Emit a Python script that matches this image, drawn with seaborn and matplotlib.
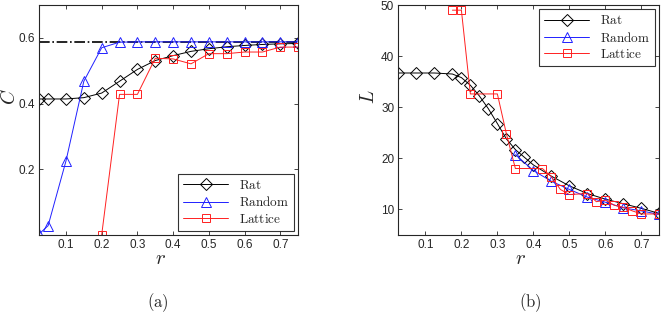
import numpy as np
import pandas as pd
import seaborn as sns
import matplotlib
matplotlib.use('Agg')
import matplotlib.pyplot as plt
from matplotlib.lines import Line2D

# ---------------- data ----------------
# (a) clustering coefficient C vs r
r_a = [0.025, 0.05, 0.1, 0.15, 0.2, 0.25, 0.3, 0.35, 0.4, 0.45, 0.5, 0.55, 0.6, 0.65, 0.7, 0.75]
C_rat = [0.414, 0.414, 0.414, 0.418, 0.432, 0.468, 0.504, 0.531, 0.546, 0.559, 0.567, 0.573, 0.577, 0.580, 0.582, 0.583]
C_random = [0.003, 0.028, 0.225, 0.468, 0.570, 0.587, 0.588, 0.588, 0.588, 0.588, 0.588, 0.588, 0.588, 0.588, 0.588, 0.588]
r_a_lat = [0.2, 0.25, 0.3, 0.35, 0.4, 0.45, 0.5, 0.55, 0.6, 0.65, 0.7, 0.75]
C_lattice = [0.0, 0.428, 0.428, 0.538, 0.536, 0.521, 0.552, 0.552, 0.557, 0.557, 0.572, 0.572]
C_ref = 0.587

# (b) path length L vs r
r_b_rat = [0.025, 0.075, 0.125, 0.175, 0.2, 0.225, 0.25, 0.275, 0.3, 0.325, 0.35, 0.375,
           0.4, 0.45, 0.5, 0.55, 0.6, 0.65, 0.7, 0.75]
L_rat = [36.7, 36.7, 36.7, 36.5, 35.8, 34.3, 32.2, 29.7, 26.8, 23.8, 21.7, 20.2,
         18.7, 16.5, 14.6, 13.1, 12.0, 11.1, 10.2, 9.2]
r_b_rand = [0.35, 0.4, 0.45, 0.5, 0.55, 0.6, 0.65, 0.7, 0.75]
L_random = [20.7, 17.6, 15.5, 13.9, 12.4, 11.4, 10.3, 9.7, 9.0]
r_b_lat = [0.175, 0.2, 0.225, 0.3, 0.325, 0.35, 0.425, 0.45, 0.475, 0.5, 0.55, 0.575,
           0.6, 0.625, 0.65, 0.675, 0.7, 0.75]
L_lattice = [49.0, 49.0, 32.6, 32.6, 24.8, 18.0, 18.0, 16.4, 13.9, 12.9, 13.1, 11.5,
             11.8, 10.8, 10.4, 9.7, 9.1, 9.1]

labels = ['Rat', 'Random', 'Lattice']

sns.set_style('ticks')
plt.rcParams['font.family'] = ['Liberation Sans', 'DejaVu Sans']
plt.rcParams['mathtext.fontset'] = 'cm'

fig = plt.figure(figsize=(6.64, 3.17), dpi=100)
ax1 = fig.add_axes([0.059, 0.259, 0.390, 0.725])
ax2 = fig.add_axes([0.600, 0.259, 0.393, 0.725])

styles = [dict(color='k', marker='D', ms=6),
          dict(color='#2020ff', marker='^', ms=6.5),
          dict(color='#ff2020', marker='s', ms=5.5)]


def draw(ax, xs, ys):
    for x, y, st in zip(xs, ys, styles):
        df = pd.DataFrame({'r': x, 'v': y})
        sns.lineplot(data=df, x='r', y='v', ax=ax, color=st['color'], marker=st['marker'],
                     markersize=st['ms'], markerfacecolor='none', markeredgecolor=st['color'],
                     markeredgewidth=0.7, linewidth=0.7)


# ----- panel (a)
ax1.plot([0.025, 0.75], [C_ref, C_ref], color='k', linestyle='-.', linewidth=1.2, zorder=1)
draw(ax1, [r_a, r_a, r_a_lat], [C_rat, C_random, C_lattice])
ax1.set_xlim(0.025, 0.75)
ax1.set_ylim(0, 0.7)
ax1.set_yticks([0.2, 0.4, 0.6])
ax1.set_xticks([0.1, 0.2, 0.3, 0.4, 0.5, 0.6, 0.7])
ax1.set_ylabel('$C$', fontsize=14)
ax1.set_xlabel('$r$', fontsize=15)

# ----- panel (b)
draw(ax2, [r_b_rat, r_b_rand, r_b_lat], [L_rat, L_random, L_lattice])
ax2.set_xlim(0.025, 0.75)
ax2.set_ylim(5, 50)
ax2.set_yticks([10, 20, 30, 40, 50])
ax2.set_xticks([0.1, 0.2, 0.3, 0.4, 0.5, 0.6, 0.7])
ax2.set_ylabel('$L$', fontsize=14)
ax2.set_xlabel('$r$', fontsize=15)

for ax, loc in ((ax1, 'lower right'), (ax2, 'upper right')):
    handles = [Line2D([], [], color=st['color'], marker=st['marker'], markersize=st['ms'],
                      markerfacecolor='none', markeredgecolor=st['color'],
                      markeredgewidth=0.7, linewidth=0.7) for st in styles]
    leg = ax.legend(handles, [r'$\mathrm{%s}$' % l for l in labels], loc=loc,
                    fontsize=9.5, fancybox=False, edgecolor='k', handlelength=3.4,
                    borderaxespad=0.3, labelspacing=0.25)
    leg.get_frame().set_linewidth(0.8)
    ax.tick_params(direction='in', top=True, right=True, length=3, width=0.6,
                   labelsize=8.5, pad=3)
    for s in ax.spines.values():
        s.set_linewidth(0.8)
    ax.yaxis.set_label_coords(-0.078, 0.6)
    ax.xaxis.set_label_coords(0.467, -0.06)

fig.text(0.238, 0.044, r'$\mathrm{(a)}$', ha='center', va='center', fontsize=12)
fig.text(0.798, 0.044, r'$\mathrm{(b)}$', ha='center', va='center', fontsize=12)

fig.savefig('out.png', dpi=100)
